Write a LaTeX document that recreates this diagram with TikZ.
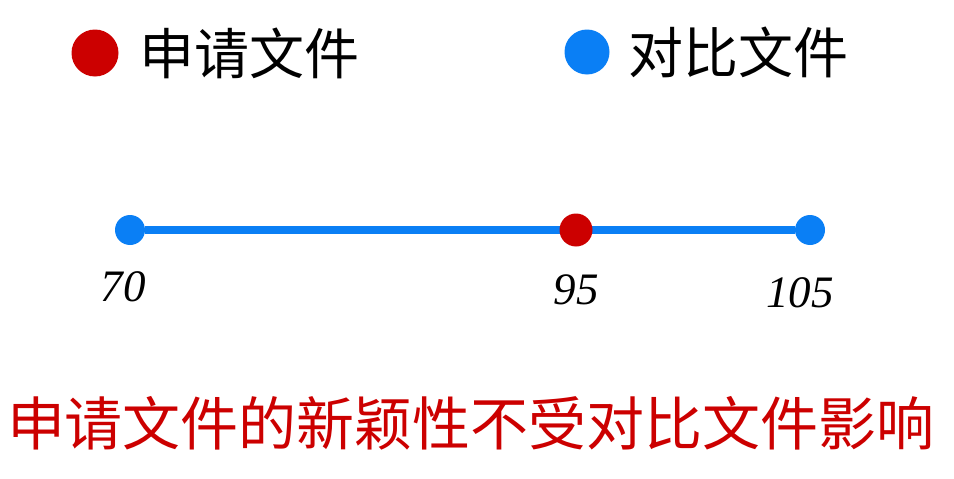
\documentclass[tikz,border=0pt]{standalone}
\usepackage{fontspec}
\setmainfont{Liberation Serif}
\newfontfamily\cjk{Noto Sans CJK SC}
\usetikzlibrary{positioning,backgrounds}
\definecolor{appred}{HTML}{CC0000}
\definecolor{refblue}{HTML}{0A7FF5}

\begin{document}
\begin{tikzpicture}[x=1pt, y=-1pt,
    dot/.style={circle, inner sep=0pt, minimum size=#1},
    numlabel/.style={font=\fontsize{45}{45}\selectfont\itshape, inner sep=0pt},
    cjklabel/.style={font=\cjk\fontsize{55}{55}\selectfont, inner sep=0pt}]
    \useasboundingbox (0,0) rectangle (954,479);

    % legend
    \node[dot=47pt, fill=appred] (legApp) at (95,53) {};
    \node[cjklabel, right=21pt of legApp] (legAppText) {申请文件};
    \node[dot=45pt, fill=refblue] (legRef) at (587,52) {};
    \node[cjklabel, right=19pt of legRef] (legRefText) {对比文件};

    % number line
    \node[dot=30pt, fill=refblue] (p70) at (130,230) {};
    \node[dot=33pt, fill=appred] (p95) at (576,230) {};
    \node[dot=30pt, fill=refblue] (p105) at (810,230) {};
    \begin{scope}[on background layer]
        \draw[refblue, line width=8.5pt] (p70) -- (p105);
    \end{scope}

    \node[numlabel] (n70) at (123,287) {70};
    \node[numlabel] (n95) at (576,290) {95};
    \node[numlabel] (n105) at (800,293) {105};

    \node[cjklabel, font=\cjk\fontsize{58}{58}\selectfont, text=appred] (result) at (471,423) {申请文件的新颖性不受对比文件影响};
\end{tikzpicture}
\end{document}
